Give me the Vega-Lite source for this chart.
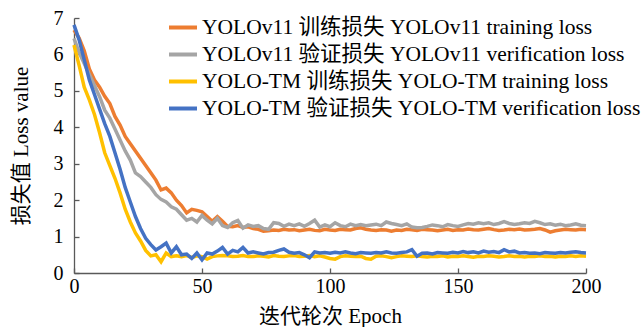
{
  "$schema": "https://vega.github.io/schema/vega-lite/v6.json",
  "width": 512,
  "height": 255,
  "autosize": {"type": "none"},
  "padding": {"left": 74, "top": 18, "right": 57, "bottom": 54},
  "background": "white",
  "config": {
    "view": {"stroke": null},
    "font": "Liberation Serif, Noto Sans CJK SC",
    "axis": {
      "grid": false,
      "domainColor": "#595959",
      "domainWidth": 1.3,
      "tickColor": "#595959",
      "tickWidth": 1.3,
      "tickSize": -5,
      "labelFont": "Liberation Serif",
      "labelFontSize": 20,
      "labelColor": "#000000",
      "labelOverlap": false,
      "labelFlush": false,
      "titleFont": "Liberation Serif, Noto Sans CJK SC",
      "titleFontSize": 21,
      "titleFontWeight": "normal",
      "titleColor": "#000000"
    },
    "axisX": {"labelPadding": 8, "titlePadding": 9},
    "axisY": {"labelPadding": 16, "titlePadding": 22},
    "legend": {
      "orient": "none",
      "legendX": 93,
      "legendY": -6.5,
      "padding": 0,
      "symbolType": "stroke",
      "symbolSize": 784,
      "symbolStrokeWidth": 4,
      "labelFont": "Liberation Serif, Noto Sans CJK SC",
      "labelFontSize": 21.5,
      "labelColor": "#000000",
      "labelLimit": 600,
      "labelOffset": 3,
      "rowPadding": 0,
      "title": null
    }
  },
  "data": {
    "values": [
      {"epoch": 0, "v11_train": 6.67, "v11_val": 6.44, "tm_train": 6.26, "tm_val": 6.81},
      {"epoch": 2, "v11_train": 6.45, "v11_val": 6.05, "tm_train": 5.70, "tm_val": 6.40},
      {"epoch": 4, "v11_train": 6.10, "v11_val": 5.75, "tm_train": 5.10, "tm_val": 5.85},
      {"epoch": 6, "v11_train": 5.60, "v11_val": 5.45, "tm_train": 4.75, "tm_val": 5.30},
      {"epoch": 8, "v11_train": 5.30, "v11_val": 5.15, "tm_train": 4.35, "tm_val": 4.90},
      {"epoch": 10, "v11_train": 5.10, "v11_val": 4.84, "tm_train": 3.85, "tm_val": 4.50},
      {"epoch": 12, "v11_train": 4.85, "v11_val": 4.47, "tm_train": 3.30, "tm_val": 4.10},
      {"epoch": 14, "v11_train": 4.65, "v11_val": 4.25, "tm_train": 2.95, "tm_val": 3.75},
      {"epoch": 16, "v11_train": 4.30, "v11_val": 3.95, "tm_train": 2.60, "tm_val": 3.30},
      {"epoch": 18, "v11_train": 4.06, "v11_val": 3.65, "tm_train": 2.20, "tm_val": 2.85},
      {"epoch": 20, "v11_train": 3.75, "v11_val": 3.35, "tm_train": 1.75, "tm_val": 2.35},
      {"epoch": 22, "v11_train": 3.55, "v11_val": 3.10, "tm_train": 1.40, "tm_val": 1.95},
      {"epoch": 24, "v11_train": 3.35, "v11_val": 2.75, "tm_train": 1.10, "tm_val": 1.55},
      {"epoch": 26, "v11_train": 3.15, "v11_val": 2.65, "tm_train": 0.88, "tm_val": 1.22},
      {"epoch": 28, "v11_train": 2.95, "v11_val": 2.50, "tm_train": 0.62, "tm_val": 0.95},
      {"epoch": 30, "v11_train": 2.75, "v11_val": 2.35, "tm_train": 0.47, "tm_val": 0.78},
      {"epoch": 32, "v11_train": 2.55, "v11_val": 2.15, "tm_train": 0.50, "tm_val": 0.63},
      {"epoch": 34, "v11_train": 2.28, "v11_val": 2.02, "tm_train": 0.31, "tm_val": 0.72},
      {"epoch": 36, "v11_train": 2.33, "v11_val": 1.95, "tm_train": 0.55, "tm_val": 0.82},
      {"epoch": 38, "v11_train": 2.20, "v11_val": 1.82, "tm_train": 0.45, "tm_val": 0.55},
      {"epoch": 40, "v11_train": 2.00, "v11_val": 1.75, "tm_train": 0.47, "tm_val": 0.72},
      {"epoch": 42, "v11_train": 1.85, "v11_val": 1.60, "tm_train": 0.45, "tm_val": 0.50},
      {"epoch": 44, "v11_train": 1.65, "v11_val": 1.45, "tm_train": 0.48, "tm_val": 0.52},
      {"epoch": 46, "v11_train": 1.75, "v11_val": 1.50, "tm_train": 0.42, "tm_val": 0.40},
      {"epoch": 48, "v11_train": 1.72, "v11_val": 1.40, "tm_train": 0.47, "tm_val": 0.55},
      {"epoch": 50, "v11_train": 1.68, "v11_val": 1.58, "tm_train": 0.45, "tm_val": 0.36},
      {"epoch": 52, "v11_train": 1.55, "v11_val": 1.45, "tm_train": 0.38, "tm_val": 0.55},
      {"epoch": 54, "v11_train": 1.42, "v11_val": 1.35, "tm_train": 0.45, "tm_val": 0.52},
      {"epoch": 56, "v11_train": 1.55, "v11_val": 1.50, "tm_train": 0.47, "tm_val": 0.60},
      {"epoch": 58, "v11_train": 1.42, "v11_val": 1.30, "tm_train": 0.48, "tm_val": 0.70},
      {"epoch": 60, "v11_train": 1.28, "v11_val": 1.25, "tm_train": 0.47, "tm_val": 0.52},
      {"epoch": 62, "v11_train": 1.27, "v11_val": 1.38, "tm_train": 0.45, "tm_val": 0.62},
      {"epoch": 64, "v11_train": 1.30, "v11_val": 1.44, "tm_train": 0.46, "tm_val": 0.58},
      {"epoch": 66, "v11_train": 1.25, "v11_val": 1.23, "tm_train": 0.48, "tm_val": 0.70},
      {"epoch": 68, "v11_train": 1.27, "v11_val": 1.32, "tm_train": 0.45, "tm_val": 0.55},
      {"epoch": 70, "v11_train": 1.22, "v11_val": 1.28, "tm_train": 0.45, "tm_val": 0.58},
      {"epoch": 72, "v11_train": 1.20, "v11_val": 1.30, "tm_train": 0.47, "tm_val": 0.55},
      {"epoch": 74, "v11_train": 1.15, "v11_val": 1.22, "tm_train": 0.46, "tm_val": 0.52},
      {"epoch": 76, "v11_train": 1.16, "v11_val": 1.20, "tm_train": 0.44, "tm_val": 0.56},
      {"epoch": 78, "v11_train": 1.18, "v11_val": 1.38, "tm_train": 0.48, "tm_val": 0.57},
      {"epoch": 80, "v11_train": 1.17, "v11_val": 1.36, "tm_train": 0.46, "tm_val": 0.62},
      {"epoch": 82, "v11_train": 1.20, "v11_val": 1.28, "tm_train": 0.45, "tm_val": 0.66},
      {"epoch": 84, "v11_train": 1.18, "v11_val": 1.34, "tm_train": 0.47, "tm_val": 0.57},
      {"epoch": 86, "v11_train": 1.19, "v11_val": 1.30, "tm_train": 0.48, "tm_val": 0.54},
      {"epoch": 88, "v11_train": 1.16, "v11_val": 1.35, "tm_train": 0.45, "tm_val": 0.56},
      {"epoch": 90, "v11_train": 1.18, "v11_val": 1.28, "tm_train": 0.46, "tm_val": 0.50},
      {"epoch": 92, "v11_train": 1.20, "v11_val": 1.36, "tm_train": 0.48, "tm_val": 0.42},
      {"epoch": 94, "v11_train": 1.17, "v11_val": 1.45, "tm_train": 0.45, "tm_val": 0.58},
      {"epoch": 96, "v11_train": 1.16, "v11_val": 1.26, "tm_train": 0.47, "tm_val": 0.55},
      {"epoch": 98, "v11_train": 1.20, "v11_val": 1.32, "tm_train": 0.44, "tm_val": 0.56},
      {"epoch": 100, "v11_train": 1.18, "v11_val": 1.27, "tm_train": 0.40, "tm_val": 0.54},
      {"epoch": 102, "v11_train": 1.17, "v11_val": 1.38, "tm_train": 0.38, "tm_val": 0.57},
      {"epoch": 104, "v11_train": 1.20, "v11_val": 1.30, "tm_train": 0.45, "tm_val": 0.55},
      {"epoch": 106, "v11_train": 1.19, "v11_val": 1.27, "tm_train": 0.47, "tm_val": 0.58},
      {"epoch": 108, "v11_train": 1.18, "v11_val": 1.34, "tm_train": 0.46, "tm_val": 0.55},
      {"epoch": 110, "v11_train": 1.22, "v11_val": 1.30, "tm_train": 0.45, "tm_val": 0.53},
      {"epoch": 112, "v11_train": 1.24, "v11_val": 1.33, "tm_train": 0.46, "tm_val": 0.56},
      {"epoch": 114, "v11_train": 1.20, "v11_val": 1.30, "tm_train": 0.40, "tm_val": 0.55},
      {"epoch": 116, "v11_train": 1.18, "v11_val": 1.32, "tm_train": 0.38, "tm_val": 0.54},
      {"epoch": 118, "v11_train": 1.17, "v11_val": 1.34, "tm_train": 0.46, "tm_val": 0.56},
      {"epoch": 120, "v11_train": 1.19, "v11_val": 1.30, "tm_train": 0.47, "tm_val": 0.55},
      {"epoch": 122, "v11_train": 1.18, "v11_val": 1.40, "tm_train": 0.45, "tm_val": 0.58},
      {"epoch": 124, "v11_train": 1.15, "v11_val": 1.36, "tm_train": 0.42, "tm_val": 0.55},
      {"epoch": 126, "v11_train": 1.18, "v11_val": 1.33, "tm_train": 0.45, "tm_val": 0.54},
      {"epoch": 128, "v11_train": 1.17, "v11_val": 1.30, "tm_train": 0.47, "tm_val": 0.56},
      {"epoch": 130, "v11_train": 1.20, "v11_val": 1.35, "tm_train": 0.46, "tm_val": 0.58},
      {"epoch": 132, "v11_train": 1.19, "v11_val": 1.26, "tm_train": 0.45, "tm_val": 0.64},
      {"epoch": 134, "v11_train": 1.17, "v11_val": 1.24, "tm_train": 0.47, "tm_val": 0.46},
      {"epoch": 136, "v11_train": 1.20, "v11_val": 1.25, "tm_train": 0.45, "tm_val": 0.54},
      {"epoch": 138, "v11_train": 1.19, "v11_val": 1.28, "tm_train": 0.44, "tm_val": 0.55},
      {"epoch": 140, "v11_train": 1.18, "v11_val": 1.32, "tm_train": 0.46, "tm_val": 0.52},
      {"epoch": 142, "v11_train": 1.16, "v11_val": 1.30, "tm_train": 0.45, "tm_val": 0.56},
      {"epoch": 144, "v11_train": 1.18, "v11_val": 1.27, "tm_train": 0.47, "tm_val": 0.55},
      {"epoch": 146, "v11_train": 1.20, "v11_val": 1.33, "tm_train": 0.44, "tm_val": 0.54},
      {"epoch": 148, "v11_train": 1.17, "v11_val": 1.30, "tm_train": 0.46, "tm_val": 0.57},
      {"epoch": 150, "v11_train": 1.19, "v11_val": 1.28, "tm_train": 0.45, "tm_val": 0.55},
      {"epoch": 152, "v11_train": 1.18, "v11_val": 1.32, "tm_train": 0.47, "tm_val": 0.59},
      {"epoch": 154, "v11_train": 1.21, "v11_val": 1.36, "tm_train": 0.45, "tm_val": 0.56},
      {"epoch": 156, "v11_train": 1.19, "v11_val": 1.34, "tm_train": 0.43, "tm_val": 0.58},
      {"epoch": 158, "v11_train": 1.18, "v11_val": 1.38, "tm_train": 0.46, "tm_val": 0.55},
      {"epoch": 160, "v11_train": 1.20, "v11_val": 1.35, "tm_train": 0.45, "tm_val": 0.60},
      {"epoch": 162, "v11_train": 1.22, "v11_val": 1.38, "tm_train": 0.47, "tm_val": 0.57},
      {"epoch": 164, "v11_train": 1.19, "v11_val": 1.33, "tm_train": 0.46, "tm_val": 0.59},
      {"epoch": 166, "v11_train": 1.17, "v11_val": 1.36, "tm_train": 0.44, "tm_val": 0.56},
      {"epoch": 168, "v11_train": 1.18, "v11_val": 1.41, "tm_train": 0.45, "tm_val": 0.64},
      {"epoch": 170, "v11_train": 1.20, "v11_val": 1.36, "tm_train": 0.47, "tm_val": 0.58},
      {"epoch": 172, "v11_train": 1.19, "v11_val": 1.33, "tm_train": 0.45, "tm_val": 0.60},
      {"epoch": 174, "v11_train": 1.21, "v11_val": 1.35, "tm_train": 0.46, "tm_val": 0.55},
      {"epoch": 176, "v11_train": 1.18, "v11_val": 1.38, "tm_train": 0.44, "tm_val": 0.56},
      {"epoch": 178, "v11_train": 1.19, "v11_val": 1.36, "tm_train": 0.46, "tm_val": 0.54},
      {"epoch": 180, "v11_train": 1.20, "v11_val": 1.42, "tm_train": 0.45, "tm_val": 0.55},
      {"epoch": 182, "v11_train": 1.22, "v11_val": 1.38, "tm_train": 0.47, "tm_val": 0.53},
      {"epoch": 184, "v11_train": 1.18, "v11_val": 1.33, "tm_train": 0.45, "tm_val": 0.56},
      {"epoch": 186, "v11_train": 1.12, "v11_val": 1.35, "tm_train": 0.46, "tm_val": 0.55},
      {"epoch": 188, "v11_train": 1.16, "v11_val": 1.31, "tm_train": 0.44, "tm_val": 0.54},
      {"epoch": 190, "v11_train": 1.18, "v11_val": 1.34, "tm_train": 0.46, "tm_val": 0.56},
      {"epoch": 192, "v11_train": 1.20, "v11_val": 1.30, "tm_train": 0.45, "tm_val": 0.55},
      {"epoch": 194, "v11_train": 1.19, "v11_val": 1.32, "tm_train": 0.47, "tm_val": 0.57},
      {"epoch": 196, "v11_train": 1.18, "v11_val": 1.35, "tm_train": 0.45, "tm_val": 0.58},
      {"epoch": 198, "v11_train": 1.20, "v11_val": 1.31, "tm_train": 0.47, "tm_val": 0.56},
      {"epoch": 200, "v11_train": 1.19, "v11_val": 1.30, "tm_train": 0.46, "tm_val": 0.55}
    ]
  },
  "encoding": {
    "x": {
      "field": "epoch",
      "type": "quantitative",
      "scale": {"domain": [0, 200], "nice": false},
      "axis": {"values": [0, 50, 100, 150, 200]},
      "title": "迭代轮次 Epoch"
    }
  },
  "layer": [
    {
      "mark": {"type": "line", "strokeWidth": 3.5},
      "encoding": {
        "y": {"field": "v11_train", "type": "quantitative", "scale": {"domain": [0, 7], "nice": false}, "axis": {"values": [0, 1, 2, 3, 4, 5, 6, 7]}, "title": "损失值 Loss value"},
        "color": {"datum": "YOLOv11 训练损失 YOLOv11 training loss", "type": "nominal",
          "scale": {"domain": ["YOLOv11 训练损失 YOLOv11 training loss", "YOLOv11 验证损失 YOLOv11 verification loss", "YOLO-TM 训练损失 YOLO-TM training loss", "YOLO-TM 验证损失 YOLO-TM verification loss"], "range": ["#ED7D31", "#A5A5A5", "#FFC000", "#4472C4"]}}
      }
    },
    {
      "mark": {"type": "line", "strokeWidth": 3.5},
      "encoding": {
        "y": {"field": "v11_val", "type": "quantitative", "axis": {"values": [0, 1, 2, 3, 4, 5, 6, 7]}, "title": "损失值 Loss value"},
        "color": {"datum": "YOLOv11 验证损失 YOLOv11 verification loss", "type": "nominal"}
      }
    },
    {
      "mark": {"type": "line", "strokeWidth": 3.5},
      "encoding": {
        "y": {"field": "tm_train", "type": "quantitative", "axis": {"values": [0, 1, 2, 3, 4, 5, 6, 7]}, "title": "损失值 Loss value"},
        "color": {"datum": "YOLO-TM 训练损失 YOLO-TM training loss", "type": "nominal"}
      }
    },
    {
      "mark": {"type": "line", "strokeWidth": 3.5},
      "encoding": {
        "y": {"field": "tm_val", "type": "quantitative", "axis": {"values": [0, 1, 2, 3, 4, 5, 6, 7]}, "title": "损失值 Loss value"},
        "color": {"datum": "YOLO-TM 验证损失 YOLO-TM verification loss", "type": "nominal"}
      }
    }
  ]
}
